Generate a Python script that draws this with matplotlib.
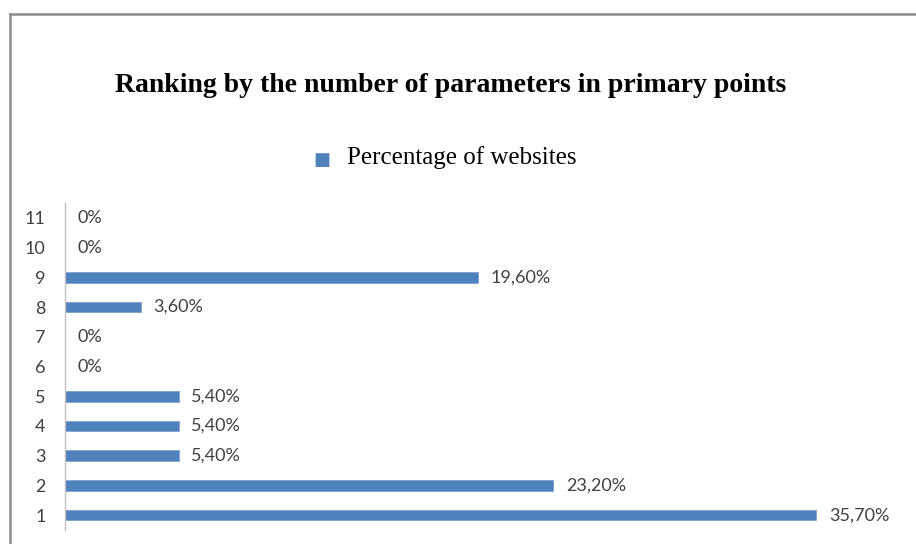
import matplotlib
matplotlib.use('Agg')
import matplotlib.pyplot as plt
from matplotlib.lines import Line2D

ranks = [1, 2, 3, 4, 5, 6, 7, 8, 9, 10, 11]
values = [35.7, 23.2, 5.4, 5.4, 5.4, 0, 0, 3.6, 19.6, 0, 0]
labels = ["35,70%", "23,20%", "5,40%", "5,40%", "5,40%", "0%", "0%", "3,60%", "19,60%", "0%", "0%"]

W, H = 916, 544
fig = plt.figure(figsize=(W / 100, H / 100), dpi=100)

# outer chart frame (top and left edges visible only)
fig.add_artist(Line2D([10 / W, 10 / W], [0, 1 - 14 / H], transform=fig.transFigure, color='#8c8c8c', lw=1.8))
fig.add_artist(Line2D([10 / W, 1], [1 - 14 / H, 1 - 14 / H], transform=fig.transFigure, color='#8c8c8c', lw=1.8))

# plot area: x from 65px, y from 202px to 529px
ax = fig.add_axes([65 / W, 1 - 530 / H, (907 - 65) / W, (530 - 203) / H])
ax.barh(ranks, values, height=0.36, color='#4f81bd', edgecolor='#7ea2d0', linewidth=0.6)
ax.set_xlim(0, 40)
ax.set_ylim(0.5, 11.5)
ax.set_yticks(ranks)
ax.set_yticklabels([str(r) for r in ranks], fontsize=13, color='#404040', family='Lato')
ax.tick_params(axis='y', length=0, pad=14)
ax.set_xticks([])
for s in ['top', 'right', 'bottom']:
    ax.spines[s].set_visible(False)
ax.spines['left'].set_color('#bfbfbf')
ax.spines['left'].set_linewidth(1)

for r, v, lab in zip(ranks, values, labels):
    ax.annotate(lab, (v, r), xytext=(9, 0), textcoords='offset points', va='center', ha='left',
                fontsize=13, color='#404040', family='Lato')

fig.text(451 / W, 1 - 86 / H, "Ranking by the number of parameters in primary points",
         ha='center', va='center', fontsize=20, fontweight='bold', family='Liberation Serif')

# legend
fig.text(322 / W, 1 - 160 / H, "\u25a0", ha='center', va='center', fontsize=13, color='#4f81bd')
fig.text(347 / W, 1 - 158 / H, "Percentage of websites", ha='left', va='center',
         fontsize=18, family='Liberation Serif')

fig.savefig('out.png', dpi=100)
